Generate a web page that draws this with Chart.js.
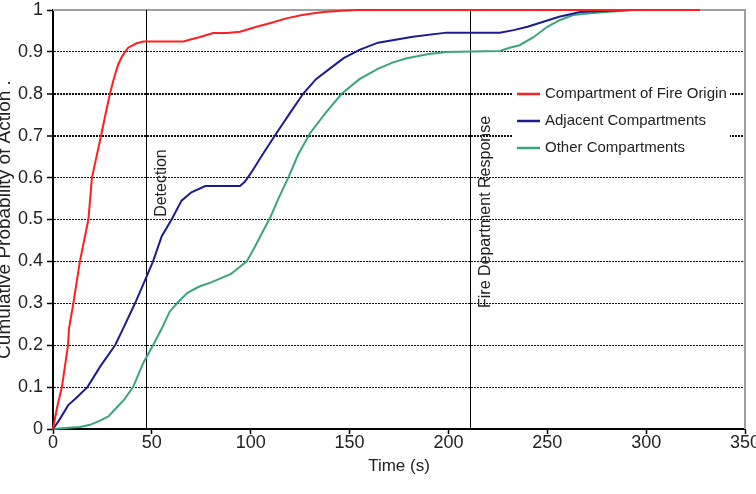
<!DOCTYPE html>
<html>
<head>
<meta charset="utf-8">
<script src="https://cdn.jsdelivr.net/npm/chart.js@4.4.1/dist/chart.umd.min.js"></script>
<style>
  html, body { margin: 0; padding: 0; background: #fff; }
  canvas { display: block; }
</style>
</head>
<body>
<canvas id="chart" width="756" height="494"></canvas>
<script>
// ---- data ----
const originTime = [0, 2, 4.5, 7.6, 8.1, 10.3, 13.6, 17.9, 19.7, 22, 24.3, 26.5, 28.8, 31, 33, 35, 38, 42, 45.6, 66, 70, 74, 81, 88, 94.6, 103, 111, 118, 126, 132, 137, 146, 154, 327];
const originProb = [0, 0.05, 0.1, 0.2, 0.24, 0.3, 0.4, 0.5, 0.6, 0.65, 0.7, 0.75, 0.8, 0.84, 0.87, 0.89, 0.91, 0.92, 0.925, 0.925, 0.93, 0.935, 0.945, 0.945, 0.948, 0.96, 0.97, 0.98, 0.988, 0.992, 0.995, 0.998, 1.0, 1.0];

const adjacentTime = [0, 3, 7.7, 12, 17.4, 24, 31.4, 36, 41.5, 47, 50.6, 55, 60, 65, 70, 77, 94.6, 97, 100, 106, 113, 120, 126.5, 133, 140, 147, 155, 164.4, 182, 199, 226, 233, 240, 248, 256, 266.6, 280, 293, 327];
const adjacentProb = [0, 0.02, 0.057, 0.075, 0.1, 0.15, 0.2, 0.245, 0.3, 0.36, 0.4, 0.46, 0.5, 0.545, 0.565, 0.58, 0.58, 0.59, 0.61, 0.655, 0.706, 0.755, 0.80, 0.835, 0.86, 0.885, 0.905, 0.922, 0.936, 0.946, 0.946, 0.952, 0.96, 0.972, 0.984, 0.995, 0.998, 1.0, 1.0];

const otherTime = [0, 8, 13.7, 18.7, 23.8, 28, 32, 36, 40.5, 45.6, 50.6, 55, 59, 62.7, 68, 74, 80, 90, 98, 102, 106, 110, 114, 119, 124, 130, 138, 146, 155, 164.5, 172, 179, 190, 199, 226, 231, 236, 243, 250, 256, 263, 273, 293, 327];
const otherProb = [0, 0.003, 0.005, 0.01, 0.02, 0.03, 0.05, 0.07, 0.1, 0.157, 0.2, 0.24, 0.28, 0.3, 0.325, 0.34, 0.35, 0.37, 0.4, 0.434, 0.47, 0.506, 0.55, 0.6, 0.655, 0.706, 0.755, 0.80, 0.835, 0.86, 0.875, 0.885, 0.895, 0.9, 0.902, 0.91, 0.916, 0.935, 0.96, 0.975, 0.988, 0.993, 1.0, 1.0];

const seriesLabels = ['Compartment of Fire Origin', 'Adjacent Compartments', 'Other Compartments'];
const seriesColors = ['#ff1f1f', '#1c1c8e', '#3aa677'];

const xTicks = [0, 50, 100, 150, 200, 250, 300, 350];
const yTicks = [0, 0.1, 0.2, 0.3, 0.4, 0.5, 0.6, 0.7, 0.8, 0.9, 1];

// vertical event markers
const markerTimes = [47, 211];
const markerLabels = ['Detection', 'Fire Department Response'];
const markerLabelProb = [0.587, 0.518];

const FONT = "'Liberation Sans', Arial, sans-serif";

const pts = (xs, ys) => xs.map((x, i) => ({ x, y: ys[i] }));

// ---- plugins ----
const framePlugin = {
    id: 'frame',
    beforeDatasetsDraw(chart) {
        const { ctx, chartArea: a, scales: { x, y } } = chart;
        ctx.save();
        // grey top + right border
        ctx.strokeStyle = '#a0a0a0';
        ctx.lineWidth = 2;
        ctx.beginPath();
        ctx.moveTo(a.left, a.top);
        ctx.lineTo(a.right, a.top);
        ctx.lineTo(a.right, a.bottom);
        ctx.stroke();
        // event markers
        ctx.strokeStyle = '#000';
        ctx.lineWidth = 1;
        ctx.fillStyle = '#222';
        ctx.font = '16px ' + FONT;
        ctx.textAlign = 'center';
        ctx.textBaseline = 'middle';
        markerTimes.forEach((t, i) => {
            const px = Math.round(x.getPixelForValue(t)) + 0.5;
            ctx.beginPath();
            ctx.moveTo(px, a.top);
            ctx.lineTo(px, a.bottom);
            ctx.stroke();
            ctx.save();
            ctx.translate(px + 15.5, y.getPixelForValue(markerLabelProb[i]));
            ctx.rotate(-Math.PI / 2);
            ctx.fillText(markerLabels[i], 0, 0);
            ctx.restore();
        });
        ctx.restore();
    }
};

const legendPlugin = {
    id: 'boxLegend',
    afterDatasetsDraw(chart) {
        const { ctx } = chart;
        const left = 512, top = 83, w = 218, h = 90;
        ctx.save();
        ctx.fillStyle = '#fff';
        ctx.fillRect(left, top, w, h);
        ctx.font = '15px ' + FONT;
        ctx.textBaseline = 'middle';
        ctx.textAlign = 'left';
        chart.data.datasets.forEach((ds, i) => {
            const ly = top + 11 + i * 27;
            ctx.strokeStyle = ds.borderColor;
            ctx.lineWidth = 2.5;
            ctx.beginPath();
            ctx.moveTo(left + 5, ly);
            ctx.lineTo(left + 28, ly);
            ctx.stroke();
            ctx.fillStyle = '#222';
            ctx.fillText(ds.label, left + 33, ly);
        });
        ctx.restore();
    }
};

new Chart(document.getElementById('chart'), {
    type: 'line',
    data: {
        datasets: [
            { label: seriesLabels[0], data: pts(originTime, originProb) },
            { label: seriesLabels[1], data: pts(adjacentTime, adjacentProb) },
            { label: seriesLabels[2], data: pts(otherTime, otherProb) }
        ].map((d, i) => Object.assign(d, {
            borderColor: seriesColors[i],
            backgroundColor: seriesColors[i],
            borderWidth: 2,
            pointRadius: 0,
            tension: 0,
            fill: false,
            clip: 4
        }))
    },
    options: {
        responsive: false,
        animation: false,
        devicePixelRatio: 1,
        layout: { padding: { top: 10, right: 11, left: 0, bottom: 0 } },
        plugins: {
            legend: { display: false },
            tooltip: { enabled: false }
        },
        scales: {
            x: {
                type: 'linear',
                min: 0, max: 350,
                afterBuildTicks: s => { s.ticks = xTicks.map(v => ({ value: v })); },
                afterFit: s => { s.height = 65; s.paddingLeft = 0; s.paddingRight = 0; },
                ticks: { color: '#222', font: { family: FONT, size: 18 }, padding: -2, maxRotation: 0 },
                grid: { drawOnChartArea: false, tickLength: 5, tickColor: '#000', tickWidth: 1.5 },
                border: { color: '#000', width: 2 },
                title: { display: true, text: 'Time (s)', color: '#222', font: { family: FONT, size: 17 }, padding: { top: 0, bottom: 17 } }
            },
            y: {
                min: 0, max: 1,
                afterBuildTicks: s => { s.ticks = yTicks.map(v => ({ value: v })); },
                afterFit: s => { s.width = 53; s.paddingTop = 0; s.paddingBottom = 0; },
                ticks: { color: '#222', font: { family: FONT, size: 18 }, padding: 4, callback: v => String(+v.toFixed(1)) },
                grid: {
                    color: c => (c.tick && (c.tick.value === 1 || c.tick.value === 0)) ? 'rgba(0,0,0,0)' : '#111',
                    lineWidth: c => (c.tick && (Math.abs(c.tick.value - 0.7) < 1e-6 || Math.abs(c.tick.value - 0.8) < 1e-6)) ? 2 : 1,
                    tickLength: 6, tickColor: '#000', tickWidth: 1.5
                },
                border: { color: '#000', width: 2, dash: [2, 1] },
                title: { display: true, text: 'Cumulative Probability of Action .', color: '#222', font: { family: FONT, size: 19, lineHeight: 1 }, padding: { top: -4.5, bottom: 0 } }
            }
        }
    },
    plugins: [framePlugin, legendPlugin]
});
</script>
</body>
</html>
